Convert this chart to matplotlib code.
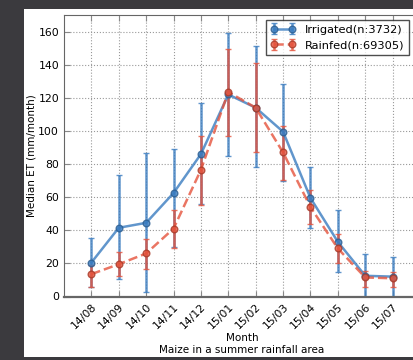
import matplotlib
matplotlib.use('Agg')
import matplotlib.pyplot as plt
from matplotlib.patches import Rectangle
import numpy as np

# 数据
months = ['14/08', '14/09', '14/10', '14/11', '14/12', '15/01',
          '15/02', '15/03', '15/04', '15/05', '15/06', '15/07']
irr_med = [20.5, 41.5, 44.5, 62.5, 86, 122, 114, 99.5, 59.5, 33, 12.5, 12]
irr_low = [5.5, 10.5, 2.5, 30, 56, 85, 78, 70, 41.5, 14.5, 0, 0]
irr_high = [35.5, 73.5, 86.5, 89, 117, 159, 151, 128.5, 78, 52, 25.5, 24]
rain_med = [13.5, 19.5, 26, 41, 76.5, 123.5, 114, 87, 54, 29, 11.5, 11]
rain_low = [6, 12.5, 16.5, 29.5, 55, 97, 87, 70.5, 44, 20, 6, 6]
rain_high = [19, 27, 35, 52, 97, 149.5, 141, 103, 64.5, 38, 15.5, 15]

irr_label = 'Irrigated(n:3732)'
rain_label = 'Rainfed(n:69305)'

blue = '#3a7cc0'
red = '#e5533c'

fig = plt.figure(figsize=(4.14, 3.6), dpi=100, facecolor='#3b3a3e')
# 白色背景区域（截图效果）
fig.patches.append(Rectangle((24 / 414, 3 / 360), 1, 348 / 360,
                             transform=fig.transFigure, facecolor='white',
                             edgecolor='none', zorder=-5))

ax = fig.add_axes([64 / 414, 63.5 / 360, 356 / 414, 281.5 / 360])
ax.set_zorder(1)
x = np.arange(len(months))

def err(med, low, high):
    med = np.array(med)
    return [med - np.array(low), np.array(high) - med]

ax.errorbar(x, irr_med, yerr=err(irr_med, irr_low, irr_high), color=blue,
            ls='-', lw=1.8, marker='o', ms=4.8, mec='#2b5d90', elinewidth=1.8,
            capsize=2, alpha=0.8, label=irr_label)
ax.errorbar(x, rain_med, yerr=err(rain_med, rain_low, rain_high), color=red,
            ls='--', lw=1.8, marker='o', ms=4.8, mec='#a83a28', elinewidth=1.8,
            capsize=2, alpha=0.8, label=rain_label)

ax.set_xlim(-1, 12)
ax.set_ylim(0, 170)
ax.set_xticks(x)
ax.set_xticklabels(months, rotation=45, ha='right', rotation_mode='anchor', fontsize=7.8)
ax.set_yticks(np.arange(0, 161, 20))
ax.tick_params(axis='y', labelsize=7.8)
ax.tick_params(direction='in', top=True, right=True, length=4, color='#888888')
ax.grid(True, ls=':', color='#999999', lw=0.8)
for s in ax.spines.values():
    s.set_color('#666666')
ax.spines['bottom'].set_linewidth(1.6)

ax.set_ylabel('Median ET (mm/month)', fontsize=7.5, labelpad=1)
ax.set_xlabel('Month\nMaize in a summer rainfall area', fontsize=7.5, labelpad=2)

leg = ax.legend(loc='upper right', fontsize=8.2, fancybox=False, numpoints=2,
                handlelength=2.2, borderaxespad=0,
                bbox_to_anchor=(409 / 414, 340 / 360), bbox_transform=fig.transFigure)
leg.get_frame().set_edgecolor('#222222')

fig.savefig('out.png', dpi=100, facecolor=fig.get_facecolor())
